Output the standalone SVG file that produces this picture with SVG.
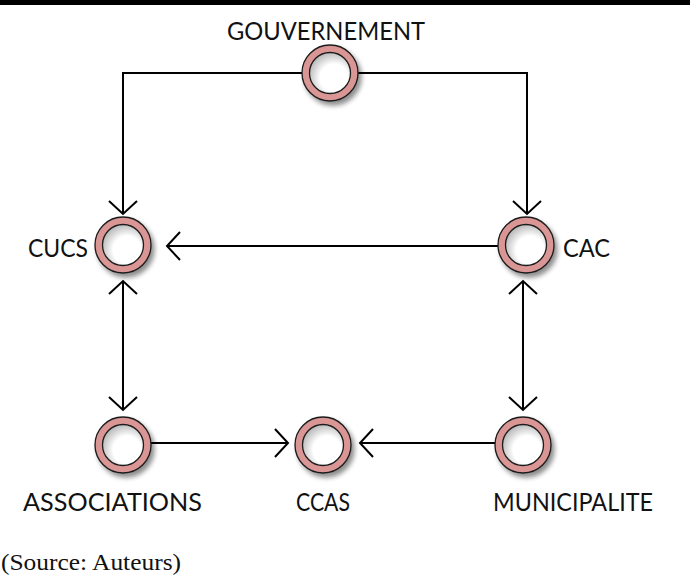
<svg xmlns="http://www.w3.org/2000/svg" width="690" height="577" viewBox="0 0 690 577">
<style>
.lbl{font-family:Lato,"Liberation Sans",Arial,sans-serif;font-size:25px;fill:#111;}
.src{font-family:"Liberation Serif","Times New Roman",serif;font-size:23px;fill:#111;}
.ring{fill:#DA9694;stroke:#1a1a1a;stroke-width:1.3;}
.hole{fill:url(#inner);stroke:#1a1a1a;stroke-width:1.3;}
.con{fill:none;stroke:#000;stroke-width:2;}
</style>
<defs>
<radialGradient id="inner" cx="0.6" cy="0.62" r="0.62">
<stop offset="0.55" stop-color="#ffffff"/>
<stop offset="1" stop-color="#bdbdbd"/>
</radialGradient>
<filter id="sh" x="-40%" y="-40%" width="190%" height="190%">
<feGaussianBlur in="SourceAlpha" stdDeviation="2.5"/>
<feOffset dx="3" dy="4" result="b"/>
<feComponentTransfer><feFuncA type="linear" slope="0.45"/></feComponentTransfer>
<feMerge><feMergeNode/><feMergeNode in="SourceGraphic"/></feMerge>
</filter>
<marker id="arr" markerUnits="userSpaceOnUse" markerWidth="32" markerHeight="32" viewBox="-16 -16 32 32" refX="0" refY="0" orient="auto-start-reverse" overflow="visible">
<path d="M-13,-14 L0,0 L-13,14" fill="none" stroke="#000" stroke-width="2"/>
</marker>
<g id="circ">
<circle r="28" class="ring"/>
<circle r="20.5" class="hole"/>
</g>
</defs>
<rect x="0" y="0" width="690" height="5" fill="#000"/>
<g id="connectors">
<path class="con" d="M302,73 H123 V214" marker-end="url(#arr)"/>
<path class="con" d="M358,73 H527 V214" marker-end="url(#arr)"/>
<path class="con" d="M498,246 H167" marker-end="url(#arr)"/>
<path class="con" d="M123,281 V410" marker-start="url(#arr)" marker-end="url(#arr)"/>
<path class="con" d="M523,281 V410" marker-start="url(#arr)" marker-end="url(#arr)"/>
<path class="con" d="M151,443 H288" marker-end="url(#arr)"/>
<path class="con" d="M495,443 H360" marker-end="url(#arr)"/>
</g>
<g id="gouvernement">
<use href="#circ" x="330" y="73" filter="url(#sh)"/>
<text class="lbl" x="227" y="40" textLength="198" lengthAdjust="spacingAndGlyphs">GOUVERNEMENT</text>
</g>
<g id="cucs">
<use href="#circ" x="123" y="245" filter="url(#sh)"/>
<text class="lbl" x="28" y="257" textLength="60" lengthAdjust="spacingAndGlyphs">CUCS</text>
</g>
<g id="cac">
<use href="#circ" x="526" y="245" filter="url(#sh)"/>
<text class="lbl" x="563" y="257" textLength="47" lengthAdjust="spacingAndGlyphs">CAC</text>
</g>
<g id="associations">
<use href="#circ" x="123" y="445" filter="url(#sh)"/>
<text class="lbl" x="23" y="511" textLength="179" lengthAdjust="spacingAndGlyphs">ASSOCIATIONS</text>
</g>
<g id="ccas">
<use href="#circ" x="323" y="445" filter="url(#sh)"/>
<text class="lbl" x="296" y="511" textLength="54" lengthAdjust="spacingAndGlyphs">CCAS</text>
</g>
<g id="municipalite">
<use href="#circ" x="523" y="445" filter="url(#sh)"/>
<text class="lbl" x="493" y="511" textLength="160" lengthAdjust="spacingAndGlyphs">MUNICIPALITE</text>
</g>
<text class="src" x="1" y="570" textLength="180" lengthAdjust="spacingAndGlyphs">(Source: Auteurs)</text>
</svg>
